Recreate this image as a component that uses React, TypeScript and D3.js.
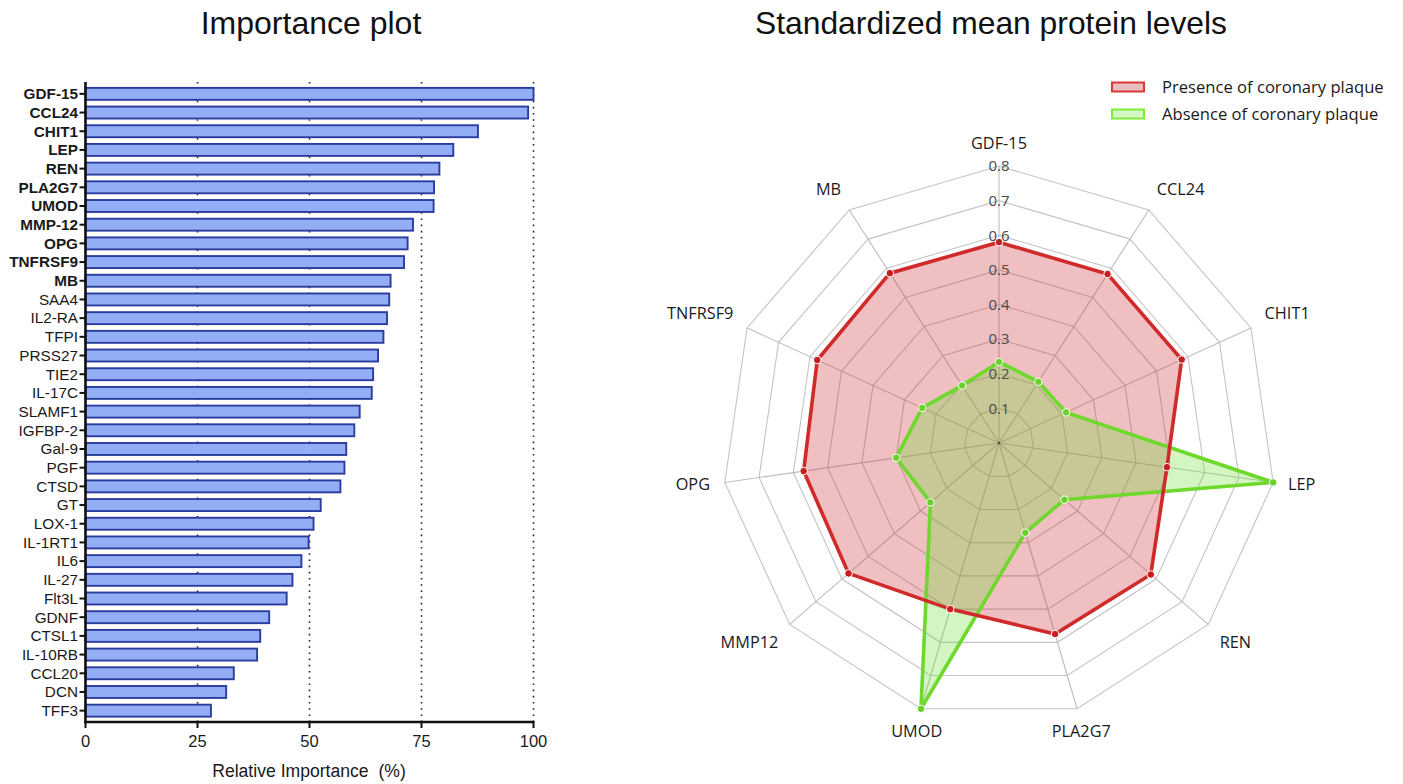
import React from "react";
import * as d3 from "d3";

// ---------- Importance plot data ----------
const proteins = [
  "GDF-15", "CCL24", "CHIT1", "LEP", "REN", "PLA2G7", "UMOD", "MMP-12", "OPG", "TNFRSF9", "MB",
  "SAA4", "IL2-RA", "TFPI", "PRSS27", "TIE2", "IL-17C", "SLAMF1", "IGFBP-2", "Gal-9", "PGF",
  "CTSD", "GT", "LOX-1", "IL-1RT1", "IL6", "IL-27", "Flt3L", "GDNF", "CTSL1", "IL-10RB",
  "CCL20", "DCN", "TFF3",
];
const importance = [
  100, 98.8, 87.6, 82.1, 79.0, 77.8, 77.7, 73.1, 71.9, 71.1, 68.1,
  67.8, 67.3, 66.5, 65.3, 64.2, 63.9, 61.2, 60.0, 58.2, 57.8,
  56.9, 52.5, 50.9, 49.8, 48.2, 46.2, 44.9, 41.0, 39.0, 38.3,
  33.1, 31.4, 28.0,
];
const boldCount = 11;
const xTicks = [0, 25, 50, 75, 100];

// ---------- Radar data ----------
const radarAxes = ["GDF-15", "CCL24", "CHIT1", "LEP", "REN", "PLA2G7", "UMOD", "MMP12", "OPG", "TNFRSF9", "MB"];
const presence = [0.58, 0.58, 0.58, 0.49, 0.58, 0.575, 0.5, 0.575, 0.57, 0.577, 0.583];
const absence = [0.234, 0.21, 0.213, 0.8, 0.25, 0.27, 0.8, 0.262, 0.3, 0.244, 0.197];
const radarTicks = [0.1, 0.2, 0.3, 0.4, 0.5, 0.6, 0.7, 0.8];
const legendLabels = ["Presence of coronary plaque", "Absence of coronary plaque"];

const SANS = "'Liberation Sans', Arial, Helvetica, sans-serif";
const OPEN = "'Open Sans', 'Noto Sans', sans-serif";

function BarChart() {
  const left = 85.5, right = 533.5, top = 82, bottom = 722;
  const x = d3.scaleLinear().domain([0, 100]).range([left, right]);
  const y = d3.scaleBand().domain(proteins).range([86, 718.5]).paddingInner(0.36).paddingOuter(0.1);
  const bh = y.bandwidth();
  return (
    <g>
      <text x={311} y={34} textAnchor="middle" fontFamily={SANS} fontSize={32} fill="#111">Importance plot</text>
      {xTicks.slice(1).map((t) => (
        <line key={t} x1={x(t)} x2={x(t)} y1={top} y2={bottom} stroke="#222" strokeWidth={1.6} strokeDasharray="1.6,4.6" />
      ))}
      {proteins.map((p, i) => {
        const yy = (y(p) as number);
        return (
          <g key={p}>
            <rect x={x(0)} y={yy} width={x(importance[i]) - x(0)} height={bh} fill="#93aef5" stroke="#2c3c9e" strokeWidth={1.9} />
            <line x1={left - 6} x2={left} y1={yy + bh / 2} y2={yy + bh / 2} stroke="#111" strokeWidth={2} />
            <text x={left - 7.5} y={yy + bh / 2} dy="0.35em" textAnchor="end" fontFamily={SANS} fontSize={15.3}
              fontWeight={i < boldCount ? "bold" : "normal"} fill="#1a1a1a">{p}</text>
          </g>
        );
      })}
      <line x1={left} x2={left} y1={top} y2={bottom + 1.2} stroke="#111" strokeWidth={2.6} />
      <line x1={left - 1.2} x2={right + 1} y1={bottom} y2={bottom} stroke="#111" strokeWidth={2.6} />
      {xTicks.map((t) => (
        <g key={t}>
          <line x1={x(t)} x2={x(t)} y1={bottom} y2={bottom + 6} stroke="#111" strokeWidth={2} />
          <text x={x(t)} y={747} textAnchor="middle" fontFamily={SANS} fontSize={16.5} fill="#1a1a1a">{t}</text>
        </g>
      ))}
      <text x={309} y={777} textAnchor="middle" fontFamily={SANS} fontSize={17.6} fill="#1a1a1a" xmlSpace="preserve">Relative Importance  (%)</text>
    </g>
  );
}

function Radar() {
  const cx = 999, cy = 443, R = 277;
  const r = d3.scaleLinear().domain([0, 0.8]).range([0, R]);
  const n = radarAxes.length;
  const ang = (i: number) => (i * 2 * Math.PI) / n;
  const pt = (i: number, v: number): [number, number] => [cx + r(v) * Math.sin(ang(i)), cy - r(v) * Math.cos(ang(i))];
  const line = d3.line<[number, number]>().curve(d3.curveLinearClosed);
  const ring = (v: number) => line(radarAxes.map((_, i) => pt(i, v))) as string;
  const presPts = presence.map((v, i) => pt(i, v));
  const absPts = absence.map((v, i) => pt(i, v));
  const gap = 15;
  return (
    <g>
      <text x={991} y={34} textAnchor="middle" fontFamily={SANS} fontSize={31.8} fill="#111">Standardized mean protein levels</text>
      {radarTicks.map((t) => (
        <path key={t} d={ring(t)} fill="none" stroke="#c4c4c4" strokeWidth={1.1} />
      ))}
      {radarAxes.map((a, i) => {
        const [x2, y2] = pt(i, 0.8);
        return <line key={a} x1={cx} y1={cy} x2={x2} y2={y2} stroke="#bdbdbd" strokeWidth={1.1} />;
      })}
      <path d={line(presPts) as string} fill="rgba(200,35,45,0.29)" stroke="none" />
      <path d={line(absPts) as string} fill="rgba(110,222,50,0.3)" stroke="none" />
      <path d={line(absPts) as string} fill="none" stroke="#6fd82c" strokeWidth={3.6} strokeLinejoin="miter" />
      <path d={line(presPts) as string} fill="none" stroke="#d02a2a" strokeWidth={3.6} strokeLinejoin="miter" />
      {absPts.map((p, i) => (
        <circle key={"a" + i} cx={p[0]} cy={p[1]} r={3.8} fill="#6ad02a" stroke="#fff" strokeWidth={1} />
      ))}
      {presPts.map((p, i) => (
        <circle key={"p" + i} cx={p[0]} cy={p[1]} r={3.8} fill="#c81e1e" stroke="#fff" strokeWidth={1} />
      ))}
      <circle cx={cx} cy={cy} r={1.2} fill="#444" />
      {radarTicks.map((t) => (
        <text key={t} x={cx} y={cy - r(t)} dy="0.35em" textAnchor="middle" fontFamily={OPEN} fontSize={15} fill="#4a4a4a">{t.toFixed(1)}</text>
      ))}
      {radarAxes.map((a, i) => {
        const s = Math.sin(ang(i)), c = Math.cos(ang(i));
        const px = cx + (R + gap) * s, py = cy - (R + gap) * c;
        const anchor = Math.abs(s) < 0.35 ? "middle" : s > 0 ? "start" : "end";
        let yy = py;
        if (Math.abs(c) >= 0.35) {
          yy = c > 0 ? py - 8 : py + 8;
        }
        return (
          <text key={a} x={px} y={yy} dy="0.35em" textAnchor={anchor} fontFamily={OPEN} fontSize={16.3} fill="#1a1a1a">{a}</text>
        );
      })}
      <g>
        <rect x={1112} y={82.5} width={32} height={9} fill="#e9bcbf" stroke="#d93636" strokeWidth={2} />
        <text x={1162} y={87} dy="0.35em" fontFamily={OPEN} fontSize={16.6} fill="#1a1a1a">{legendLabels[0]}</text>
        <rect x={1112} y={109.5} width={32} height={9} fill="#d6f8c6" stroke="#7cee34" strokeWidth={2} />
        <text x={1162} y={114} dy="0.35em" fontFamily={OPEN} fontSize={16.6} fill="#1a1a1a">{legendLabels[1]}</text>
      </g>
    </g>
  );
}

export default function App() {
  return (
    <svg width={1403} height={784} style={{ position: "absolute", left: 0, top: 0, background: "#fff" }}>
      <rect x={0} y={0} width={1403} height={784} fill="#fff" />
      <BarChart />
      <Radar />
    </svg>
  );
}
